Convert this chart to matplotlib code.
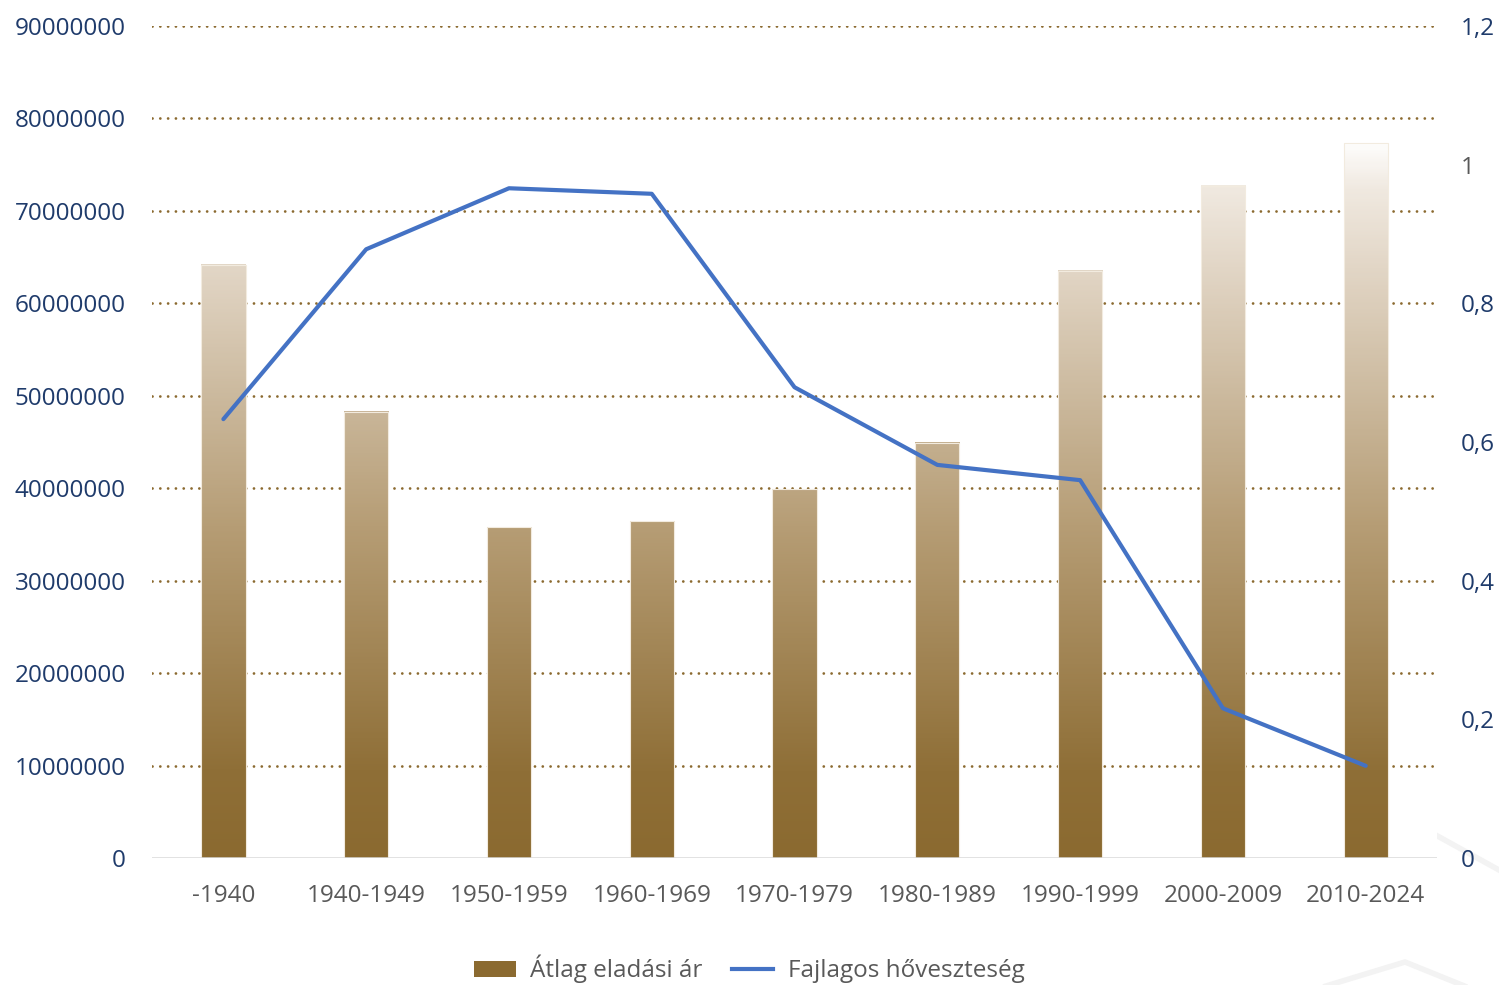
import numpy as np
import matplotlib
matplotlib.use("Agg")
import matplotlib.pyplot as plt
from matplotlib.colors import LinearSegmentedColormap
from matplotlib.patches import Patch
from matplotlib.lines import Line2D

categories = ["-1940", "1940-1949", "1950-1959", "1960-1969", "1970-1979",
              "1980-1989", "1990-1999", "2000-2009", "2010-2024"]
avg_price = [64150000, 48250000, 35800000, 36450000, 39900000,
             44900000, 63500000, 72700000, 77300000]
heat_loss = [0.633, 0.878, 0.966, 0.958, 0.679, 0.567, 0.545, 0.216, 0.133]

left_ticks = [0, 10000000, 20000000, 30000000, 40000000, 50000000,
              60000000, 70000000, 80000000, 90000000]
right_ticks = [0, 0.2, 0.4, 0.6, 0.8, 1.0, 1.2]
right_labels = ["0", "0,2", "0,4", "0,6", "0,8", "1", "1,2"]

legend_labels = ["Átlag eladási ár", "Fajlagos hőveszteség"]

plt.rcParams['font.family'] = ['Open Sans', 'DejaVu Sans']
FS = 17.5
BROWN = '#8B6A30'
BLUE = '#4472C4'
NAVY = '#1F3B6B'
GRAY = '#595959'

fig = plt.figure(figsize=(14.99, 9.85), dpi=100)
ax = fig.add_axes([0.1014, 0.1289, 0.9587 - 0.1014, 0.9736 - 0.1289])
ax2 = ax.twinx()

cmap = LinearSegmentedColormap.from_list(
    'brn', [(0.0, '#8B6A30'), (0.12, '#8F6F37'), (0.46, '#B69D75'),
            (0.62, '#C9B699'), (0.82, '#E2D6C6'), (0.93, '#F0E9E0'),
            (1.0, '#FFFFFF')])
gmax = 78000000

# gridlines
for t in left_ticks[1:]:
    ax.axhline(t, color=BROWN, lw=2.0, linestyle=(0, (0.01, 2.8)),
               dash_capstyle='round', zorder=1)

x = np.arange(len(categories))
w = 0.31
bars = ax.bar(x, avg_price, width=w, facecolor='none',
              edgecolor='#F2EBDF', lw=0.8, zorder=3)
for xi, h in zip(x, avg_price):
    grad = np.linspace(0, h, 300).reshape(-1, 1)
    ax.imshow(grad, extent=[xi - w / 2, xi + w / 2, 0, h], origin='lower',
              aspect='auto', cmap=cmap, vmin=0, vmax=gmax, zorder=2,
              interpolation='bilinear')

ax.axhline(0, color='#D9D9D9', lw=1.8, zorder=4)

ax.set_xlim(-0.5, 8.5)
ax.set_ylim(0, 90000000)
ax.set_yticks(left_ticks)
ax.set_yticklabels([str(t) for t in left_ticks])
ax.set_xticks(x)
ax.set_xticklabels(categories)
ax.tick_params(axis='y', length=0, pad=19, labelsize=FS, labelcolor=NAVY)
ax.tick_params(axis='x', length=0, pad=19, labelsize=FS, labelcolor=GRAY)

ax2.plot(x, heat_loss, color=BLUE, lw=3, solid_capstyle='round',
         solid_joinstyle='round', zorder=5)
ax2.set_ylim(0, 1.2)
ax2.set_yticks(right_ticks)
ax2.set_yticklabels(right_labels)
ax2.tick_params(axis='y', length=0, pad=17, labelsize=FS, labelcolor=NAVY)
for lbl in ax2.get_yticklabels():
    if lbl.get_text() == "1":
        lbl.set_color(GRAY)

for a in (ax, ax2):
    for s in a.spines.values():
        s.set_visible(False)

# faint decorative watermark
fig.add_artist(Line2D([1375 / 1499, 1405 / 1499, 1499 / 1499],
                      [1 - 840 / 985, 1 - 818 / 985, 1 - 870 / 985],
                      transform=fig.transFigure, color='#F3F3F3', lw=4, zorder=0))
fig.add_artist(Line2D([1280 / 1499, 1405 / 1499, 1499 / 1499],
                      [1 - 1000 / 985, 1 - 962 / 985, 1 - 1000 / 985],
                      transform=fig.transFigure, color='#F3F3F3', lw=4, zorder=0))

handles = [Patch(facecolor=BROWN, edgecolor='none'),
           Line2D([0], [0], color=BLUE, lw=3)]
fig.legend(handles, legend_labels, loc='center', bbox_to_anchor=(0.5, 0.016),
           ncol=2, frameon=False, fontsize=FS, labelcolor=GRAY,
           handlelength=1.7, handleheight=0.65, handletextpad=0.6,
           columnspacing=1.2)

fig.savefig('out.png', dpi=100)
